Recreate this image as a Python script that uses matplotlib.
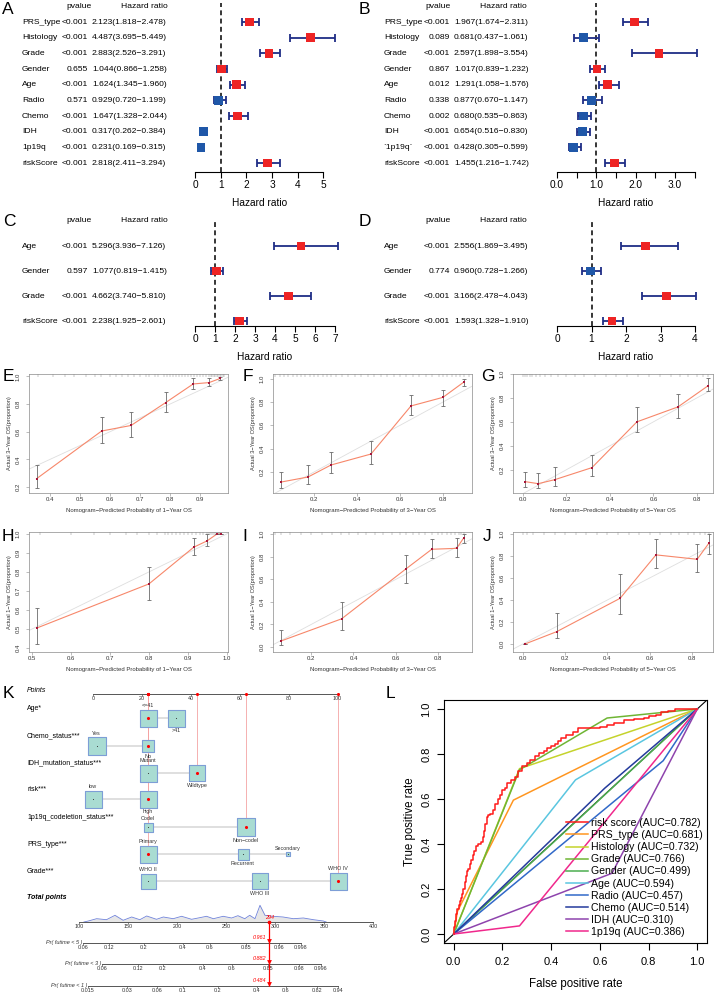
import numpy as np
import matplotlib.pyplot as plt
from matplotlib.transforms import blended_transform_factory

plt.rcParams['font.family'] = ['Liberation Sans', 'DejaVu Sans']

W, H = 720, 996

# ---------------- forest plots (A-D) ----------------
a_names = ['PRS_type', 'Histology', 'Grade', 'Gender', 'Age', 'Radio', 'Chemo', 'IDH', '1p19q', 'riskScore']
a_p = ['<0.001', '<0.001', '<0.001', '0.655', '<0.001', '0.571', '<0.001', '<0.001', '<0.001', '<0.001']
a_hr = [2.123, 4.487, 2.883, 1.044, 1.624, 0.929, 1.647, 0.317, 0.231, 2.818]
a_lo = [1.818, 3.695, 2.526, 0.866, 1.345, 0.720, 1.328, 0.262, 0.169, 2.411]
a_hi = [2.478, 5.449, 3.291, 1.258, 1.960, 1.199, 2.044, 0.384, 0.315, 3.294]

b_names = ['PRS_type', 'Histology', 'Grade', 'Gender', 'Age', 'Radio', 'Chemo', 'IDH', '`1p19q`', 'riskScore']
b_p = ['<0.001', '0.089', '<0.001', '0.867', '0.012', '0.338', '0.002', '<0.001', '<0.001', '<0.001']
b_hr = [1.967, 0.681, 2.597, 1.017, 1.291, 0.877, 0.680, 0.654, 0.428, 1.455]
b_lo = [1.674, 0.437, 1.898, 0.839, 1.058, 0.670, 0.535, 0.516, 0.305, 1.216]
b_hi = [2.311, 1.061, 3.554, 1.232, 1.576, 1.147, 0.863, 0.830, 0.599, 1.742]

c_names = ['Age', 'Gender', 'Grade', 'riskScore']
c_p = ['<0.001', '0.597', '<0.001', '<0.001']
c_hr = [5.296, 1.077, 4.662, 2.238]
c_lo = [3.936, 0.819, 3.740, 1.925]
c_hi = [7.126, 1.415, 5.810, 2.601]

d_p = ['<0.001', '0.774', '<0.001', '<0.001']
d_hr = [2.556, 0.960, 3.166, 1.593]
d_lo = [1.869, 0.728, 2.478, 1.328]
d_hi = [3.495, 1.266, 4.043, 1.910]

# ---------------- calibration plots (E-J) ----------------
e_x = [0.355, 0.572, 0.670, 0.785, 0.877, 0.930, 0.967]
e_y = [0.26, 0.605, 0.645, 0.81, 0.945, 0.955, 0.985]
e_lo = [0.19, 0.52, 0.565, 0.74, 0.91, 0.93, 0.975]
e_hi = [0.36, 0.705, 0.745, 0.885, 0.985, 0.99, 0.995]
e_rug = [0.36, 0.41, 0.45, 0.48, 0.52, 0.55, 0.57, 0.6, 0.62, 0.64, 0.66, 0.68, 0.7, 0.72, 0.73, 0.75,
         0.76, 0.78, 0.79, 0.8, 0.81, 0.82, 0.83, 0.84, 0.85, 0.86, 0.87, 0.88, 0.89, 0.9, 0.91, 0.92,
         0.93, 0.935, 0.94, 0.945, 0.95, 0.955, 0.96, 0.965, 0.97, 0.975, 0.98]

f_x = [0.047, 0.172, 0.279, 0.465, 0.651, 0.80, 0.90]
f_y = [0.114, 0.157, 0.26, 0.354, 0.766, 0.84, 0.975]
f_lo = [0.06, 0.10, 0.188, 0.27, 0.69, 0.766, 0.94]
f_hi = [0.196, 0.26, 0.374, 0.466, 0.86, 0.90, 1.0]
f_rug = [0.02, 0.04, 0.06, 0.08, 0.1, 0.12, 0.14, 0.16, 0.18, 0.2, 0.22, 0.24, 0.26, 0.28, 0.3, 0.33,
         0.36, 0.39, 0.42, 0.45, 0.48, 0.51, 0.54, 0.57, 0.6, 0.63, 0.66, 0.69, 0.72, 0.75, 0.78, 0.8,
         0.82, 0.84, 0.86, 0.88, 0.9, 0.92]

g_x = [0.01, 0.07, 0.147, 0.317, 0.524, 0.713, 0.85]
g_y = [0.10, 0.083, 0.117, 0.217, 0.60, 0.725, 0.90]
g_lo = [0.055, 0.045, 0.063, 0.144, 0.513, 0.633, 0.86]
g_hi = [0.18, 0.17, 0.222, 0.325, 0.722, 0.833, 0.97]
g_rug = [0.0, 0.01, 0.02, 0.03, 0.04, 0.06, 0.08, 0.1, 0.13, 0.16, 0.2, 0.24, 0.28, 0.33, 0.38, 0.43,
         0.48, 0.53, 0.58, 0.63, 0.68, 0.72, 0.76, 0.8, 0.83, 0.85]

h_x = [0.512, 0.80, 0.915, 0.949, 0.975, 0.985]
h_y = [0.505, 0.737, 0.93, 0.963, 1.0, 1.0]
h_lo = [0.42, 0.65, 0.89, 0.935, 1.0, 1.0]
h_hi = [0.61, 0.826, 0.98, 1.0, 1.0, 1.0]
h_rug = [0.52, 0.6, 0.66, 0.7, 0.74, 0.77, 0.8, 0.82, 0.84, 0.85, 0.86, 0.87, 0.88, 0.89, 0.9, 0.91,
         0.92, 0.93, 0.94, 0.95, 0.955, 0.96, 0.965, 0.97, 0.975, 0.98, 0.985]

i_x = [0.057, 0.344, 0.646, 0.77, 0.887, 0.92]
i_y = [0.053, 0.25, 0.69, 0.867, 0.875, 0.965]
i_lo = [0.02, 0.15, 0.57, 0.79, 0.80, 0.92]
i_hi = [0.155, 0.40, 0.82, 0.96, 0.97, 1.0]
i_rug = [0.03, 0.06, 0.1, 0.15, 0.2, 0.25, 0.3, 0.34, 0.38, 0.42, 0.46, 0.5, 0.54, 0.58, 0.62, 0.65,
         0.68, 0.71, 0.74, 0.77, 0.8, 0.82, 0.84, 0.86, 0.88, 0.9, 0.91, 0.92]

j_x = [0.01, 0.16, 0.46, 0.63, 0.825, 0.88]
j_y = [0.0, 0.112, 0.415, 0.81, 0.77, 0.915]
j_lo = [0.0, 0.05, 0.27, 0.69, 0.657, 0.818]
j_hi = [0.0, 0.28, 0.64, 0.95, 0.906, 1.0]
j_rug = [0.0, 0.02, 0.05, 0.1, 0.15, 0.2, 0.25, 0.3, 0.35, 0.4, 0.45, 0.5, 0.55, 0.6, 0.65, 0.7,
         0.74, 0.78, 0.81, 0.84, 0.86, 0.88]

# ---------------- nomogram (K) ----------------
nomo_vars = ['Age*', 'Chemo_status***', 'IDH_mutation_status***', 'risk***',
             '1p19q_codeletion_status***', 'PRS_type***', 'Grade***']
nomo_levels = [['<=41', '>41'], ['Yes', 'No'], ['Mutant', 'Wildtype'], ['low', 'high'],
               ['Codel', 'Non\u2212codel'], ['Primary', 'Recurrent', 'Secondary'],
               ['WHO II', 'WHO III', 'WHO IV']]
nomo_points = [[22.5, 34], [1.5, 22.5], [22.5, 42.5], [0, 22.5], [22.5, 62.5], [22.5, 61.3, 79.8],
               [22.5, 68.3, 100]]
nomo_freq = [[17, 17], [18, 12], [17, 16], [17, 17], [9, 18], [17, 11, 4], [15, 16, 17]]
nomo_sel = [0, 1, 1, 1, 1, 0, 2]
points_ticks = [0, 20, 40, 60, 80, 100]
total_ticks = [100, 150, 200, 250, 300, 350, 400]
total_patient = 294
dens_tp = [105, 109.5, 118, 128, 136.7, 145, 153.7, 162, 169, 179, 186, 196, 204.6, 214.8, 223, 230,
           237, 247, 255.6, 262, 269, 274, 279.4, 284.5, 289.6, 298, 308, 318.5, 328.7, 339, 349, 352]
dens_h = [0, 1, 3.3, 2.3, 6.7, 1.7, 5, 2.3, 6, 2.7, 5, 3.3, 5.7, 2.7, 4.3, 5.7,
          3.3, 5.7, 4, 6.3, 3.3, 6.7, 3.3, 16.7, 6.7, 5.7, 5, 3.3, 4, 2.3, 1, 0]
pr_labels = ['Pr( futime < 5 )', 'Pr( futime < 3 )', 'Pr( futime < 1 )']
pr_tp = [[104.1, 130.6, 166.3, 206.0, 233.5, 270.2, 303.9, 326.3],
         [123.4, 160.1, 185.6, 226.4, 256.0, 292.7, 324.3, 346.7],
         [109.2, 148.9, 179.5, 206.0, 241.7, 281.4, 311.0, 342.6, 364.0]]
pr_ticklabs = [['0.06', '0.12', '0.2', '0.4', '0.6', '0.85', '0.96', '0.998'],
               ['0.06', '0.12', '0.2', '0.4', '0.6', '0.85', '0.98', '0.996'],
               ['0.015', '0.03', '0.06', '0.1', '0.2', '0.4', '0.6', '0.82', '0.94']]
pr_pred = ['0.961', '0.882', '0.484']

# ---------------- ROC (L) ----------------
roc_names = ['risk score', 'PRS_type', 'Histology', 'Grade', 'Gender', 'Age', 'Radio', 'Chemo', 'IDH', '1p19q']
roc_auc = ['0.782', '0.681', '0.732', '0.766', '0.499', '0.594', '0.457', '0.514', '0.310', '0.386']
roc_colors = ['#ff1a1a', '#ff9620', '#c5d32c', '#6fb534', '#4cae4f', '#5ac6e0', '#3169c9', '#243b9c',
              '#8e44ad', '#f0288c']
risk_fpr = [0, 0.005, 0.01, 0.015, 0.02, 0.025, 0.03, 0.035, 0.04, 0.045, 0.05, 0.055, 0.06, 0.065,
            0.07, 0.08, 0.085, 0.09, 0.1, 0.11, 0.12, 0.125, 0.13, 0.135, 0.14, 0.15, 0.16, 0.17, 0.18,
            0.19, 0.2, 0.21, 0.22, 0.235, 0.25, 0.265, 0.28, 0.3, 0.315, 0.335, 0.35, 0.37, 0.385, 0.4,
            0.415, 0.43, 0.44, 0.46, 0.49, 0.51, 0.53, 0.6, 0.63, 0.66, 0.7, 0.74, 0.78, 0.8, 0.83,
            0.85, 0.88, 0.91, 0.93, 1.0]
risk_tpr = [0, 0.03, 0.06, 0.09, 0.11, 0.13, 0.145, 0.16, 0.18, 0.2, 0.23, 0.26, 0.28, 0.29,
            0.31, 0.33, 0.35, 0.37, 0.39, 0.40, 0.41, 0.43, 0.46, 0.49, 0.52, 0.53, 0.535, 0.55, 0.58,
            0.60, 0.62, 0.64, 0.65, 0.67, 0.685, 0.70, 0.725, 0.745, 0.76, 0.775, 0.79, 0.805, 0.815,
            0.825, 0.835, 0.845, 0.86, 0.87, 0.885, 0.9, 0.915, 0.915, 0.92, 0.93, 0.94, 0.95, 0.955,
            0.96, 0.97, 0.975, 0.985, 0.99, 1.0, 1.0]
roc_fpr = [risk_fpr, [0, 0.015, 0.245, 1], [0, 0.27, 1], [0, 0.27, 0.63, 1], [0, 0.45, 1],
           [0, 0.5, 1], [0, 0.86, 1], [0, 0.62, 1], [0, 0.65, 1], [0, 0.27, 1]]
roc_tpr = [risk_tpr, [0, 0.1, 0.595, 1], [0, 0.735, 1], [0, 0.73, 0.96, 1], [0, 0.448, 1],
           [0, 0.685, 1], [0, 0.77, 1], [0, 0.648, 1], [0, 0.27, 1], [0, 0.036, 1]]


def R(l, t, r, b):
    return [l / W, 1 - b / H, (r - l) / W, (b - t) / H]


fig = plt.figure(figsize=(7.2, 9.96), dpi=100)


def letter(s, x, y):
    fig.text(x / W, 1 - y / H, s, ha='center', va='center', fontsize=12.5)


def forest(names, pv, hr, lo, hi, xl, xr, xmax, ticks, tlabs, top, axis_y, row0, pitch,
           lab_x, p_x, hr_x, head_p, head_hr, head_y):
    ax = fig.add_axes(R(xl, top, xr, axis_y))
    hr, lo, hi = np.asarray(hr), np.asarray(lo), np.asarray(hi)
    rows = np.arange(len(names))
    ax.set_xlim(0, xmax)
    ax.set_ylim((axis_y - row0) / pitch, (top - row0) / pitch)
    ax.axvline(1, color='black', ls=(0, (3.2, 2.2)), lw=1.1, zorder=1)
    cap = 4 / pitch
    ax.hlines(rows, lo, hi, color='#1f2d86', lw=1.3, clip_on=False, zorder=2)
    ax.vlines(np.concatenate([lo, hi]), np.tile(rows, 2) - cap, np.tile(rows, 2) + cap,
              color='#1f2d86', lw=1.3, clip_on=False, zorder=2)
    ax.scatter(hr, rows, marker='s', s=40, c=np.where(hr > 1, '#ee2424', '#1f57a8'),
               zorder=3, clip_on=False, linewidths=0)
    for s in ['top', 'right', 'left']:
        ax.spines[s].set_visible(False)
    ax.spines['bottom'].set_linewidth(0.8)
    ax.set_yticks([])
    ax.set_xticks(ticks)
    ax.set_xticklabels(tlabs, fontsize=7.3)
    ax.tick_params(axis='x', length=4, width=0.8, pad=1.5)
    ax.set_xlabel('Hazard ratio', fontsize=7.3, labelpad=6)
    ax.patch.set_alpha(0)
    tr = blended_transform_factory(fig.transFigure, ax.transData)
    for i in rows:
        ax.text(lab_x / W, i, names[i], transform=tr, ha='left', va='center', fontsize=6.1)
        ax.text(p_x / W, i, pv[i], transform=tr, ha='right', va='center', fontsize=6.1)
        ax.text(hr_x / W, i, f'{hr[i]:.3f}({lo[i]:.3f}\u2212{hi[i]:.3f})', transform=tr,
                ha='left', va='center', fontsize=6.1)
    fig.text(head_p / W, 1 - head_y / H, 'pvalue', ha='center', va='center', fontsize=6.1)
    fig.text(head_hr / W, 1 - head_y / H, 'Hazard ratio', ha='center', va='center', fontsize=6.1)


forest(a_names, a_p, a_hr, a_lo, a_hi, 195, 323.5, 5, [0, 1, 2, 3, 4, 5], ['0', '1', '2', '3', '4', '5'],
       3, 172, 22, 15.67, 22, 88, 92, 79, 144, 7)
forest(b_names, b_p, b_hr, b_lo, b_hi, 557, 694.5, 3.5, [0, 0.5, 1, 1.5, 2, 2.5, 3, 3.5],
       ['0.0', '', '1.0', '', '2.0', '', '3.0', ''], 3, 172, 22, 15.67, 384, 450, 454, 438, 503, 7)
forest(c_names, c_p, c_hr, c_lo, c_hi, 195, 335, 7, list(range(8)), [str(v) for v in range(8)],
       219, 326, 246, 25, 22, 88, 92, 79, 144, 221)
forest(c_names, d_p, d_hr, d_lo, d_hi, 557, 695, 4, list(range(5)), [str(v) for v in range(5)],
       219, 326, 246, 25, 384, 450, 454, 438, 503, 221)


def calib(rect, xlim, ylim, xt, yt, px, py, plo, phi, rug, xlab, ylab):
    ax = fig.add_axes(R(*rect))
    ax.set_xlim(xlim)
    ax.set_ylim(ylim)
    py, plo, phi = np.asarray(py), np.asarray(plo), np.asarray(phi)
    ax.axline((0, 0), (1, 1), color='#dedede', lw=0.6, zorder=1)
    ax.plot(px, py, color='#f7876a', lw=0.8, zorder=2)
    ax.errorbar(px, py, yerr=[py - plo, phi - py], fmt='none', ecolor='#6a6a6a', elinewidth=0.6,
                capsize=1.6, capthick=0.6, zorder=3)
    ax.scatter(px, py, marker='s', s=4, color='#7d8fd2', zorder=4, linewidths=0)
    ax.scatter(px, py, marker='s', s=2.2, color='#a8163a', zorder=5, linewidths=0)
    ax.vlines(rug, 0.972, 1.0, transform=ax.get_xaxis_transform(), color='#8c8c8c', lw=0.35)
    for s in ax.spines.values():
        s.set_color('#8a8a8a')
        s.set_linewidth(0.5)
    ax.set_xticks(xt)
    ax.set_xticklabels([f'{v:.1f}' for v in xt])
    ax.set_yticks(yt)
    ax.set_yticklabels([f'{v:.1f}' for v in yt], rotation=90, va='center')
    ax.tick_params(length=2, width=0.4, colors='#8a8a8a', labelcolor='#333333', labelsize=4.3)
    ax.tick_params(axis='x', pad=1)
    ax.tick_params(axis='y', pad=4)
    ax.set_xlabel(xlab, fontsize=4.3, labelpad=4, color='#333333')
    ax.set_ylabel(ylab, fontsize=4.1, labelpad=3, color='#333333')


xl1 = 'Nomogram\u2212Predicted Probability of 1\u2212Year OS'
xl3 = 'Nomogram\u2212Predicted Probability of 3\u2212Year OS'
xl5 = 'Nomogram\u2212Predicted Probability of 5\u2212Year OS'
yl3 = 'Actual 3\u2212Year OS(proportion)'
yl1 = 'Actual 1\u2212Year OS(proportion)'
calib((29, 374, 228, 493), (0.33, 0.993), (0.157, 1.017), [0.4, 0.5, 0.6, 0.7, 0.8, 0.9],
      [0.2, 0.4, 0.6, 0.8, 1.0], e_x, e_y, e_lo, e_hi, e_rug, xl1, yl3)
calib((273, 374, 472, 493), (0.009, 0.935), (0.02, 1.04), [0.2, 0.4, 0.6, 0.8],
      [0.2, 0.4, 0.6, 0.8, 1.0], f_x, f_y, f_lo, f_hi, f_rug, xl3, yl3)
calib((513, 374, 713, 493), (-0.046, 0.874), (0.005, 0.995), [0.0, 0.2, 0.4, 0.6, 0.8],
      [0.2, 0.4, 0.6, 0.8, 1.0], g_x, g_y, g_lo, g_hi, g_rug, xl5, yl3)
calib((29, 532, 228, 652), (0.492, 1.003), (0.379, 1.01), [0.5, 0.6, 0.7, 0.8, 0.9, 1.0],
      [0.4, 0.5, 0.6, 0.7, 0.8, 0.9, 1.0], h_x, h_y, h_lo, h_hi, h_rug, xl1, yl1)
calib((273, 532, 472, 652), (0.02, 0.96), (-0.044, 1.02), [0.2, 0.4, 0.6, 0.8],
      [0.0, 0.2, 0.4, 0.6, 0.8, 1.0], i_x, i_y, i_lo, i_hi, i_rug, xl3, yl1)
calib((513, 532, 713, 652), (-0.047, 0.9), (-0.073, 1.018), [0.0, 0.2, 0.4, 0.6, 0.8],
      [0.0, 0.2, 0.4, 0.6, 0.8, 1.0], j_x, j_y, j_lo, j_hi, j_rug, xl5, yl1)

# ---------------- nomogram ----------------
axK = fig.add_axes(R(0, 680, 400, 996))
axK.set_xlim((0 - 93) / 2.445, (400 - 93) / 2.445)
axK.set_ylim(996, 680)
axK.axis('off')
axT = fig.add_axes(R(0, 680, 400, 996))
axT.set_xlim(100 - 79 / 0.981, 100 + (400 - 79) / 0.981)
axT.set_ylim(996, 680)
axT.axis('off')
tK = blended_transform_factory(fig.transFigure, axK.transData)

axis_y = 694
axK.plot([0, 100], [axis_y, axis_y], color='#555555', lw=0.7)
axK.vlines(points_ticks, axis_y, axis_y + 1.5, color='#555555', lw=0.5)
for v in points_ticks:
    axK.text(v, axis_y + 1.5, str(v), ha='center', va='top', fontsize=3.9, color='#333333')
axK.text(27 / W, axis_y - 4, 'Points', transform=tK, ha='left', va='center', fontsize=5,
         style='italic')

row_y = [718, 746, 773, 799, 827, 854, 881]
for k, name in enumerate(nomo_vars):
    y = row_y[k]
    pts = nomo_points[k]
    axK.text(27 / W, y - 10, name, transform=tK, ha='left', va='center', fontsize=5)
    axK.plot([min(pts), max(pts)], [y, y], color='#d9d9d9', lw=1.2, zorder=1)
    for j, (lev, p, sz) in enumerate(zip(nomo_levels[k], pts, nomo_freq[k])):
        axK.scatter([p], [y], marker='s', s=(sz * 0.72) ** 2, color='#a9dcd2', edgecolors='#7d9ed6',
                    linewidths=0.8, zorder=2)
        axK.scatter([p], [y], marker='o', s=0.6, color='#333333', zorder=3, linewidths=0)
        if j % 2 == 0:
            axK.text(p, y - sz / 2 - 1.5, lev, ha='center', va='bottom', fontsize=3.9, color='#333333')
        else:
            axK.text(p, y + sz / 2 + 1.5, lev, ha='center', va='top', fontsize=3.9, color='#333333')
    sp = pts[nomo_sel[k]]
    axK.vlines(sp, axis_y, y, color='#f4a3a3', lw=0.6, zorder=1.5)
    axK.scatter([sp], [y], marker='o', s=5, color='red', zorder=4, linewidths=0)
    axK.scatter([sp], [axis_y], marker='o', s=5, color='red', zorder=4, linewidths=0)

# total points
tot_y = 922
axK.text(27 / W, 897, 'Total points', transform=tK, ha='left', va='center', fontsize=5,
         style='italic', weight='bold')
axT.fill_between(dens_tp, tot_y, tot_y - np.asarray(dens_h), color='#e6e6e6', lw=0)
axT.plot(dens_tp, tot_y - np.asarray(dens_h), color='#6f82d9', lw=0.6)
axT.plot([total_ticks[0], total_ticks[-1]], [tot_y, tot_y], color='#555555', lw=0.7)
axT.vlines(total_ticks, tot_y, tot_y + 1.5, color='#555555', lw=0.5)
for v in total_ticks:
    axT.text(v, tot_y + 2, str(v), ha='center', va='top', fontsize=3.9, color='#333333')
axT.vlines(total_patient, tot_y, 986, color='red', lw=0.9, zorder=4)
axT.scatter([total_patient], [tot_y], s=7, color='red', zorder=5, linewidths=0)
axT.text(total_patient, tot_y - 2.5, str(total_patient), color='red', fontsize=4, ha='center',
         va='bottom', style='italic')

pr_y = [943, 964, 986]
for lab, tps, tl, y, pred in zip(pr_labels, pr_tp, pr_ticklabs, pr_y, pr_pred):
    axT.plot([tps[0], tps[-1]], [y, y], color='#555555', lw=0.7)
    axT.vlines(tps, y, y + 1.5, color='#555555', lw=0.5)
    for v, t in zip(tps, tl):
        axT.text(v, y + 2, t, ha='center', va='top', fontsize=3.9, color='#333333')
    axT.text(tps[0] - 1, y - 1, lab, ha='right', va='center', fontsize=4, style='italic',
             color='#333333')
    axT.scatter([total_patient], [y - 2.5], marker='v', s=12, color='red', zorder=5, linewidths=0)
    axT.text(total_patient - 3, y - 6, pred, color='red', fontsize=4, ha='right', va='center',
             style='italic')

# ---------------- ROC ----------------
axL = fig.add_axes(R(444, 700, 707, 943))
axL.set_xlim(-0.04, 1.04)
axL.set_ylim(-0.04, 1.04)
axL.axline((0, 0), (1, 1), color='black', lw=0.8, zorder=1)
handles = []
for k in range(len(roc_names)):
    ln, = axL.plot(roc_fpr[k], roc_tpr[k], color=roc_colors[k], lw=1.1,
                   zorder=5 if k == 0 else 2, drawstyle='steps-pre' if k == 0 else 'default',
                   label=f'{roc_names[k]} (AUC={roc_auc[k]})')
    handles.append(ln)
ticks = [0, 0.2, 0.4, 0.6, 0.8, 1.0]
axL.set_xticks(ticks)
axL.set_xticklabels([f'{v:.1f}' for v in ticks])
axL.set_yticks(ticks)
axL.set_yticklabels([f'{v:.1f}' for v in ticks], rotation=90, va='center')
axL.tick_params(length=5, width=0.8, labelsize=8)
axL.tick_params(axis='x', pad=5)
axL.tick_params(axis='y', pad=4)
for s in axL.spines.values():
    s.set_linewidth(0.8)
axL.set_xlabel('False positive rate', fontsize=8.3, labelpad=8)
axL.set_ylabel('True positive rate', fontsize=8.3, labelpad=4)
axL.legend(handles=handles, loc='upper left', bbox_to_anchor=(566 / W, 1 - 818 / H),
           bbox_transform=fig.transFigure, frameon=False, fontsize=7.6, handlelength=2.1,
           handletextpad=0.25, labelspacing=0.2, borderpad=0, borderaxespad=0)

for s, x, y in [('A', 8, 10), ('B', 364, 10), ('C', 9, 221), ('D', 365, 221), ('E', 8, 376),
                ('F', 248, 376), ('G', 488, 376), ('H', 8, 536), ('I', 245, 536), ('J', 487, 536),
                ('K', 8, 693), ('L', 390, 693)]:
    letter(s, x, y)

fig.savefig('out.png', dpi=100)
